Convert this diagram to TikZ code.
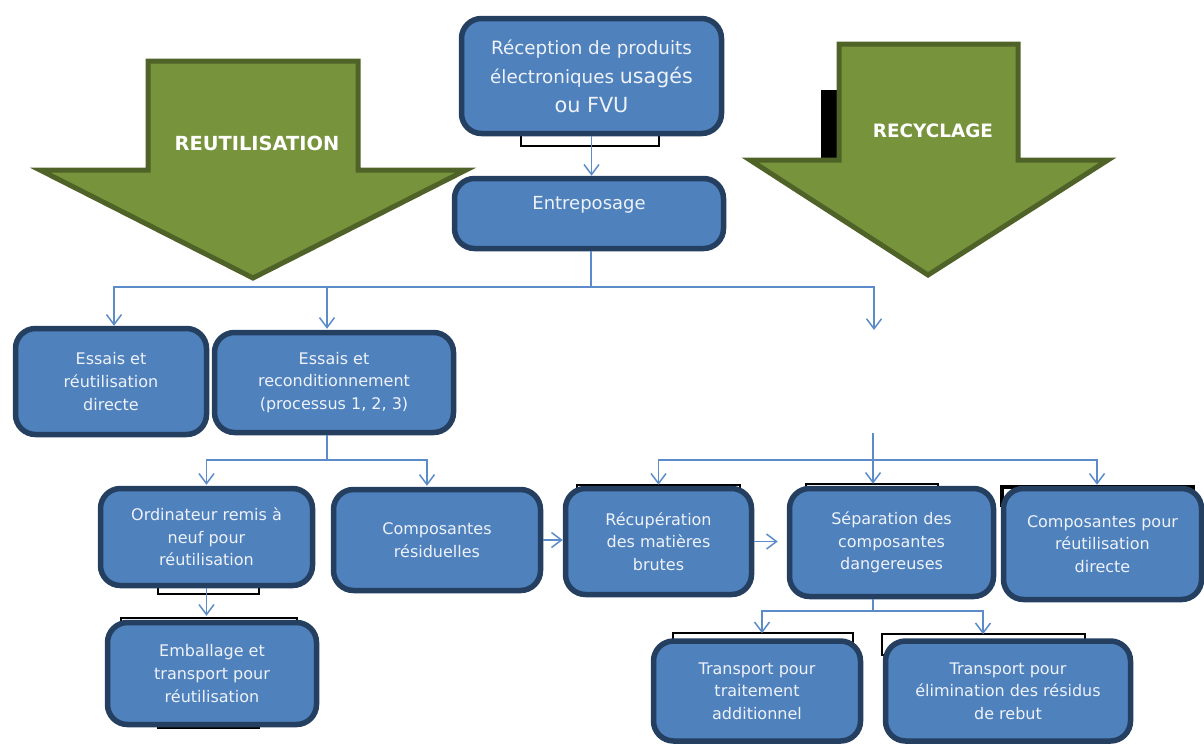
\documentclass[tikz,border=0pt]{standalone}
\usepackage{fontspec}
\setmainfont{DejaVu Sans}
\usetikzlibrary{arrows.meta}
\definecolor{boxfill}{HTML}{4F81BD}
\definecolor{boxline}{HTML}{243F60}
\definecolor{boxtext}{HTML}{EEF2F9}
\definecolor{connc}{HTML}{5B8BC9}
\definecolor{gfill}{HTML}{77933C}
\definecolor{gline}{HTML}{4F6228}
\begin{document}
\begin{tikzpicture}[x=1pt,y=-1pt,
  box/.style={draw=boxline, fill=boxfill, line width=5.5pt, rounded corners=20pt, inner sep=0pt,
    text=boxtext, align=center, font=\fontsize{16}{22.7}\selectfont},
  conn/.style={draw=connc, line width=1.5pt, -{Straight Barb[length=10pt,width=15pt,line width=1.5pt]}},
  plain/.style={draw=connc, line width=1.5pt},
  bk/.style={draw=black, line width=2pt},
  green/.style={fill=gfill, draw=gline, line width=5pt, line join=miter},
  glabel/.style={text=white, font=\bfseries\fontsize{18.8}{22}\selectfont}]
\useasboundingbox (0,0) rectangle (1204,745);

% black shapes behind boxes
\fill[black] (821,90) rectangle (839,160);
\draw[bk] (521,110) rectangle (659,146);
\draw[bk] (158,560) rectangle (259,594);
\draw[bk] (121,618) rectangle (297,650);
\draw[bk] (158,690) rectangle (259,728);
\draw[bk] (577,485) rectangle (740,520);
\draw[bk] (806,484) rectangle (938,520);
\draw[bk, line width=3.5pt] (1002,487) rectangle (1193,505);
\draw[bk] (673,633) rectangle (853,660);
\draw[bk] (882,634) rectangle (1085,655);

% green arrows
\draw[green] (148,61) -- (358,61) -- (358,170) -- (466,170) -- (253,278) -- (40,170) -- (148,170) -- cycle;
\draw[green] (839,44) -- (1018,44) -- (1018,160) -- (1108,160) -- (928,275) -- (750,160) -- (839,160) -- cycle;
\node[glabel, font=\bfseries\fontsize{19.4}{22}\selectfont] (lreut) at (257,143) {REUTILISATION};
\node[glabel, font=\bfseries\fontsize{18.4}{22}\selectfont] (lrecy) at (933,131) {RECYCLAGE};

% boxes
\node[box, minimum width=260, minimum height=115, font=\fontsize{18.3}{29}\selectfont] (rec) at (591.5,76)
  {Réception de produits\\électroniques {\fontsize{20.6}{29}\selectfont usagés}\\{\fontsize{20.8}{29}\selectfont ou FVU}};
\node[box, minimum width=269, minimum height=70] (ent) at (589,213.5) {};
\node[text=boxtext, font=\fontsize{18}{22}\selectfont] (entt) at (589,205) {Entreposage};
\node[box, minimum width=191, minimum height=106] (ess1) at (111,381.5) {Essais et\\réutilisation\\directe};
\node[box, minimum width=239, minimum height=100] (ess2) at (334,382.5) {Essais et\\reconditionnement\\(processus 1, 2, 3)};
\node[box, minimum width=212, minimum height=97] (ord) at (206.5,537) {Ordinateur remis à\\neuf pour\\réutilisation};
\node[box, minimum width=207, minimum height=101] (cres) at (437,540) {Composantes\\résiduelles};
\node[box, minimum width=209, minimum height=102] (emb) at (212,673.5) {Emballage et\\transport pour\\réutilisation};
\node[box, minimum width=186, minimum height=106] (recup) at (658.5,541.5) {Récupération\\des matières\\brutes};
\node[box, minimum width=204, minimum height=108] (sep) at (891.5,542.5) {Séparation des\\composantes\\dangereuses};
\node[box, minimum width=198, minimum height=111] (cpour) at (1102.5,544) {Composantes pour\\réutilisation\\directe};
\node[box, minimum width=207, minimum height=100] (tt) at (757,691) {Transport pour\\traitement\\additionnel};
\node[box, minimum width=245, minimum height=100] (te) at (1008,691) {Transport pour\\élimination des résidus\\de rebut};

% connectors
\draw[conn] (rec.south) -- (rec.south |- ent.north);

\coordinate (j1) at (591,287);
\coordinate (rfree) at (874,330);
\draw[plain] (ent.south -| j1) -- (j1);
\draw[conn] (j1) -| ([xshift=3pt]ess1.north);
\draw[conn] (j1) -| ([xshift=-7pt,yshift=1pt]ess2.north);
\draw[conn] (j1) -| (rfree);

\coordinate (j3) at (327,460);
\draw[plain] (ess2.south -| j3) -- (j3);
\draw[conn] (j3) -| ([yshift=1pt]ord.north);
\draw[conn] (j3) -| ([xshift=-10pt,yshift=1pt]cres.north);
\draw[conn] (ord.south) -- ([yshift=4pt]ord.south |- emb.north);

\draw[conn] (cres.east) -- (cres.east -| recup.west);
\draw[conn] (recup.east) -- ([xshift=-9pt]recup.east -| sep.west);

\coordinate (rtop) at (873,433);
\coordinate (j2) at (873,460);
\draw[plain, line width=2.5pt] (rtop) -- (j2);
\draw[plain] (659,460) -- (1097,460);
\draw[conn] (j2) -| ([yshift=1pt]recup.north);
\draw[conn] (j2) -- ([yshift=2pt]j2 |- sep.north);
\draw[conn] (j2) -| ([xshift=-5.5pt,yshift=1pt]cpour.north);

\coordinate (j4) at (873,611);
\draw[plain] (sep.south -| j4) -- (j4);
\draw[conn] (j4) -| ([xshift=5pt,yshift=5pt]tt.north);
\draw[conn] (j4) -| ([xshift=-25pt,yshift=4pt]te.north);
\end{tikzpicture}
\end{document}
